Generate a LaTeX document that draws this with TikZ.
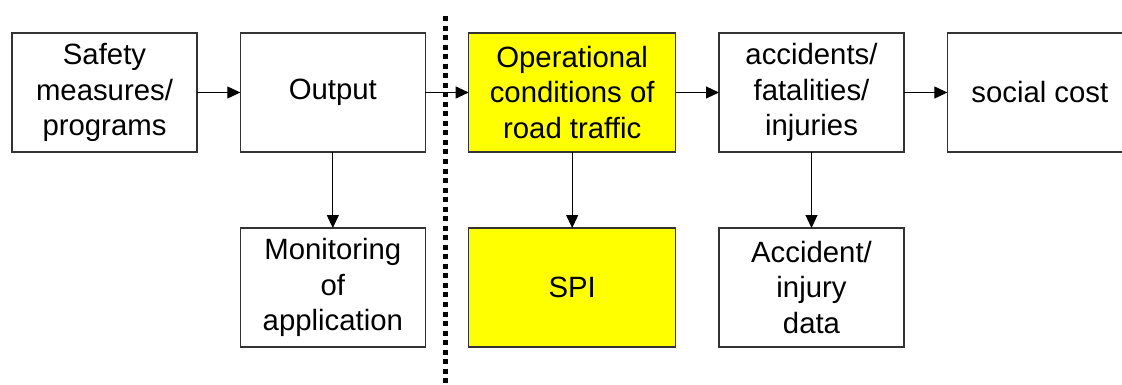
\documentclass[tikz,border=0pt]{standalone}
\usepackage{fontspec}
\setmainfont{Liberation Sans}
\usetikzlibrary{positioning,arrows.meta}
\definecolor{hiyellow}{RGB}{255,255,0}
\begin{document}
\begin{tikzpicture}[x=0.75pt,y=-0.75pt,
    box/.style={draw=black!80,line width=0.8pt,minimum width=138.75pt,minimum height=89.25pt,
        inner sep=0pt,outer sep=0pt,align=center,font=\fontsize{22}{26.5}\selectfont},
    wide/.style={minimum width=155.25pt},
    hilite/.style={fill=hiyellow},
    flow/.style={-{Triangle[length=9.75pt,width=9pt]},line width=0.8pt},
    node distance=57pt and 32.5pt]
    \useasboundingbox (0,0) rectangle (1122,385);
    \coordinate (top) at (445,16);
    \coordinate (bot) at (445,383);
    \draw [line width=3.75pt,dash pattern=on 3.75pt off 3.4pt] (top) -- (bot);
    \node[box] (measures) at (104.5,92.5) {Safety\\measures/\\programs};
    \node[box,right=of measures] (output) {Output};
    \node[box,wide,hilite,right=of output] (operation) {Operational\\conditions of\\road traffic};
    \node[box,right=of operation] (accidents) {accidents/\\fatalities/\\injuries};
    \node[box,right=of accidents] (cost) {social cost};
    \node[box,below=of output] (monitor) {Monitoring\\of\\application};
    \node[box,wide,hilite,below=of operation] (spi) {SPI};
    \node[box,below=of accidents] (data) {Accident/\\injury\\data};
    \draw [flow] (measures) -- (output);
    \draw [flow] (output) -- (operation);
    \draw [flow] (operation) -- (accidents);
    \draw [flow] (accidents) -- (cost);
    \draw [flow] (output) -- (monitor);
    \draw [flow] (operation) -- (spi);
    \draw [flow] (accidents) -- (data);
\end{tikzpicture}
\end{document}
